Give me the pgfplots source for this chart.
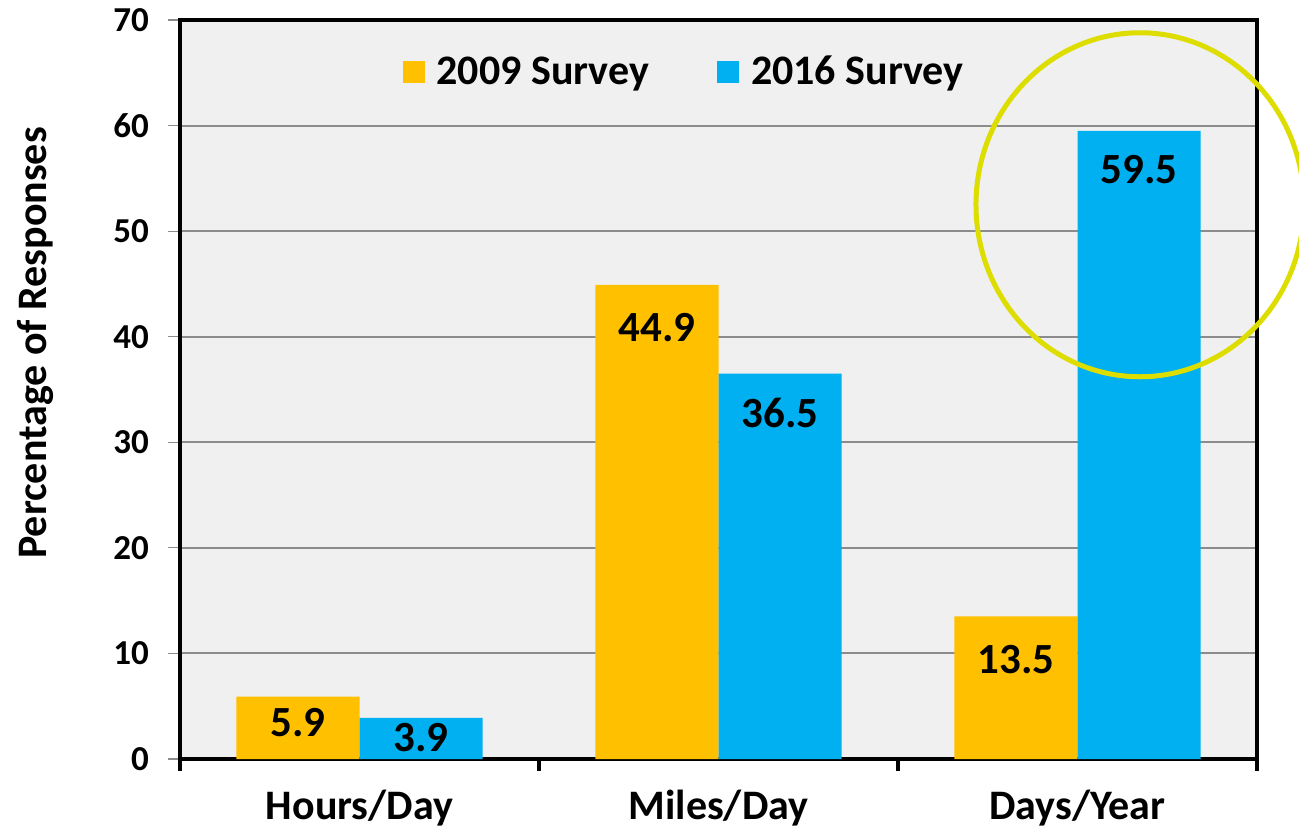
\documentclass[border=0pt]{standalone}
\usepackage{fontspec}
\setmainfont{Carlito}
\usepackage{pgfplots}
\pgfplotsset{compat=1.18}
\definecolor{orng}{HTML}{FFC000}
\definecolor{sky}{HTML}{00B0F0}
\definecolor{gridgray}{HTML}{8C8C8C}
\definecolor{ring}{HTML}{DDDD00}
\definecolor{panel}{HTML}{F0F0F0}
\pgfplotsset{sq legend/.style={legend image code/.code={\fill[##1] (0pt,-5.5pt) rectangle (11pt,5.5pt);}}}
\begin{document}
\begin{tikzpicture}
\begin{axis}[
    scale only axis,
    width=538.5pt, height=369.5pt,
    xmin=-0.5, xmax=2.5, ymin=0, ymax=70,
    axis background/.style={fill=panel},
    axis line style={black, line width=1.6pt},
    clip=false,
    xtick pos=bottom, ytick pos=left,
    xtick={-0.5,0.5,1.5,2.5}, xticklabels={},
    x tick style={black, line width=1.6pt},
    extra x ticks={0,1,2},
    extra x tick labels={Hours/Day,Miles/Day,Days/Year},
    extra x tick style={major tick length=0pt, tick style={draw=none},
        ticklabel style={yshift=-12pt}},
    tick align=outside,
    major tick length=6pt,
    ytick={0,10,...,70},
    y tick style={gridgray, line width=0.6pt},
    ymajorgrids,
    grid style={gridgray, line width=1pt},
    /pgf/number format/assume math mode=true,
    yticklabel style={font=\bfseries\fontsize{17.5}{18}\selectfont, xshift=-6pt},
    xticklabel style={font=\bfseries\fontsize{21}{22}\selectfont},
    ylabel={Percentage of Responses},
    ylabel style={font=\bfseries\fontsize{21}{22}\selectfont,
        at={(axis description cs:-0.1346,0.563)}, anchor=center},
    legend style={at={(axis description cs:0.469,0.93)}, anchor=center,
        draw=none, fill=none, legend columns=2,
        font=\bfseries\fontsize{21}{22}\selectfont,
        /tikz/every odd column/.append style={column sep=4pt},
        /tikz/every even column/.append style={column sep=32pt}},
]
\addplot[ybar, bar width=0.343, bar shift=-0.1715, fill=orng, draw=none, sq legend]
    coordinates {(0,5.9) (1,44.9) (2,13.5)};
\addplot[ybar, bar width=0.343, bar shift=0.1715, fill=sky, draw=none, sq legend]
    coordinates {(0,3.9) (1,36.5) (2,59.5)};
\legend{2009 Survey, 2016 Survey}
\addplot[draw=none, forget plot, nodes near coords, point meta=explicit symbolic,
    nodes near coords style={anchor=center, font=\bfseries\fontsize{21.5}{22}\selectfont}]
    coordinates {(-0.1715,3.5)[5.9] (0.8285,40.9)[44.9] (1.8285,9.4)[13.5]};
\addplot[draw=none, forget plot, nodes near coords, point meta=explicit symbolic,
    nodes near coords style={anchor=center, font=\bfseries\fontsize{21.5}{22}\selectfont}]
    coordinates {(0.1715,2.0)[3.9] (1.1715,32.8)[36.5] (2.1715,55.8)[59.5]};
\draw[ring, line width=2.5pt] (axis cs:2.174,52.5) ellipse [x radius=82pt, y radius=86pt];
\end{axis}
\pgfresetboundingbox
\path (-90pt,-38.5pt) rectangle (559.5pt,379.5pt);
\end{tikzpicture}
\end{document}
